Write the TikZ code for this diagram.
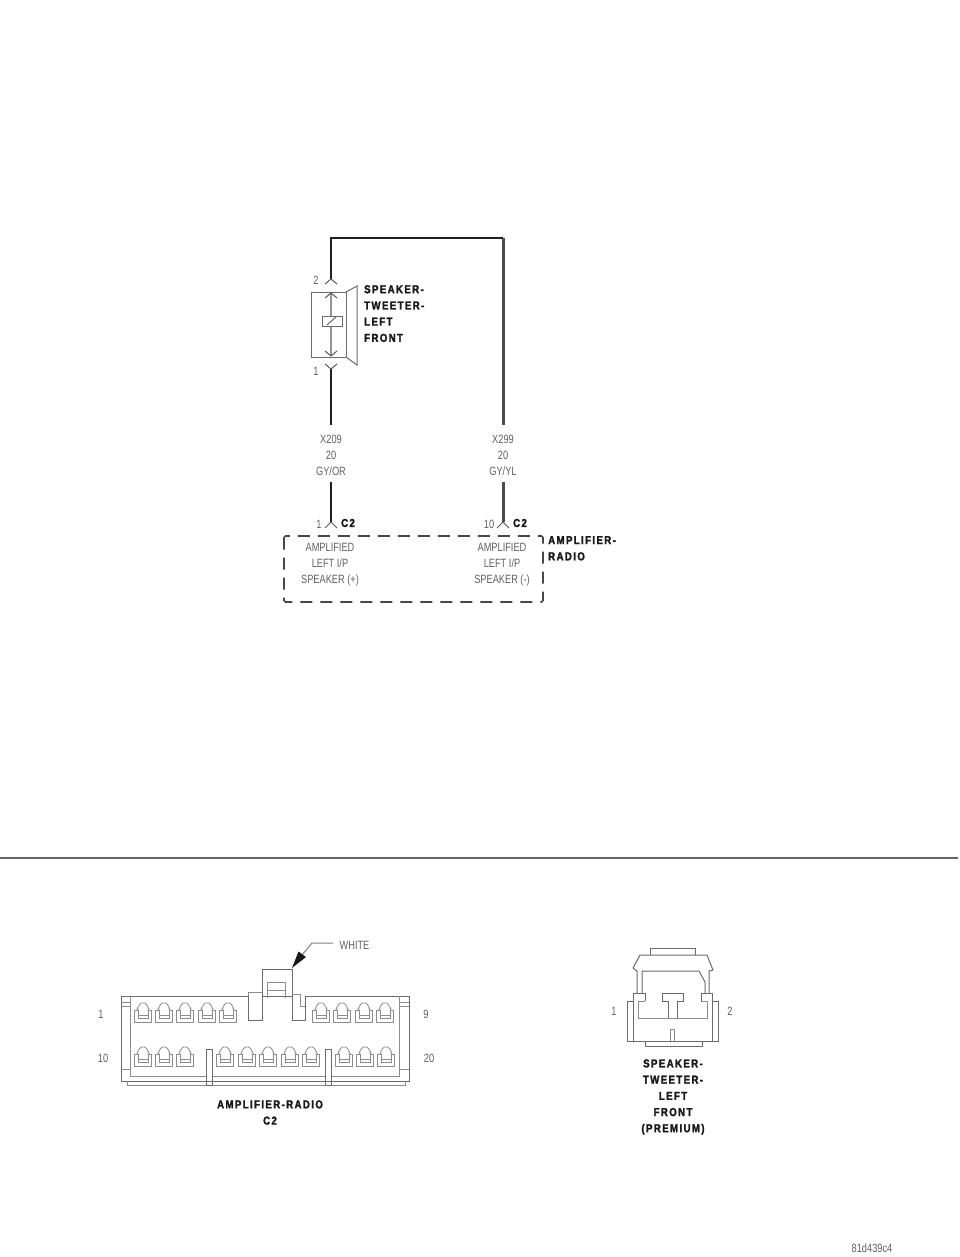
\documentclass[tikz,border=0pt]{standalone}
\usepackage{fontspec}
\setmainfont{Liberation Sans}
\newfontfamily\thinfont[FakeStretch=0.77]{Liberation Sans}
\newfontfamily\boldfont[FakeStretch=0.84,LetterSpace=12,FakeBold=2]{Liberation Sans Bold}
\begin{document}
\begin{tikzpicture}[x=1pt,y=-1pt,
  thinlab/.style={font=\thinfont\fontsize{12}{16}\selectfont,text=black!62,align=center,inner sep=0pt},
  boldlab/.style={font=\boldfont\fontsize{11.5}{16.2}\selectfont,text=black!90,align=left,inner sep=0pt},
  boldmid/.style={boldlab,align=center},
  wire/.style={line width=2.7pt,black!88},
  wiregrey/.style={line width=3pt,black!70},
  outline/.style={line width=1pt,black!58},
  fineline/.style={line width=0.8pt,black!45},
  chevron/.style={line width=1pt,black!65},
  pics/terminal/.style={code={
    \draw[fineline] (-8.5,7) -- (-8.5,19) -- (8.5,19) -- (8.5,7) -- (5,7) -- (5,15) -- (-5,15) -- (-5,7) -- cycle;
    \draw[fineline] (-5,7) -- (-5,6) -- (-6,6) -- (-3.5,1.5) -- (-1.5,0) -- (1.5,0) -- (3.5,1.5) -- (6,6) -- (5,6) -- (5,7);
    \draw[fineline] (-5,12) -- (5,12);
  }}]
\useasboundingbox (0,0) rectangle (960,1257);
\fill[white] (0,0) rectangle (960,1257);

% ---- schematic wires
\coordinate (corL) at (331,238);
\coordinate (corR) at (503,238);
\coordinate (p2) at (331,279);
\coordinate (p1) at (331,369);
\coordinate (wL) at (331,425);
\coordinate (wR) at (503,425);
\coordinate (wL2) at (331,482);
\coordinate (wR2) at (503,482);
\coordinate (c1) at (331,522);
\coordinate (c10) at (503,522);
\draw[wiregrey] (corR) -- (wR);
\draw[wire] (p2) -- (corL) -- (corR);
\draw[wire] (p1) -- (wL);
\draw[wire] (wL2) -- (c1);
\draw[wiregrey] (wR2) -- (c10);
\draw[chevron] ([xshift=-6,yshift=-5]p2) -- (p2) -- ([xshift=6,yshift=-5]p2);
\draw[chevron] ([xshift=-6,yshift=5]p1) -- (p1) -- ([xshift=6,yshift=5]p1);
\draw[chevron] ([xshift=-6,yshift=-6]c1) -- (c1) -- ([xshift=6,yshift=-6]c1);
\draw[chevron] ([xshift=-6,yshift=-6]c10) -- (c10) -- ([xshift=6,yshift=-6]c10);

% ---- speaker symbol
\draw[outline] (311,292) rectangle (346,357);
\draw[outline] (346,292) -- (357,286) -- (357,365) -- (346,357);
\coordinate (sT) at (331,293);
\coordinate (sB) at (331,356);
\draw[line width=1.7pt,black!42] (sT) -- (sB);
\draw[chevron] (325,298) -- (sT) -- (337,298);
\draw[chevron] (325,351) -- (sB) -- (337,351);
\draw[outline,fill=white] (322,316) rectangle (342,326);
\draw[outline] (327,325) -- (336,317);

% ---- schematic labels
\node[thinlab] (n2) at (316,280) {2};
\node[thinlab] (n1) at (316,371) {1};
\node[boldlab,anchor=north west] (spk) at (364,285) {SPEAKER-\\TWEETER-\\LEFT\\FRONT};
\node[thinlab] (w1) at (331,455) {X209\\20\\GY/OR};
\node[thinlab] (w2) at (503,455) {X299\\20\\GY/YL};
\node[thinlab] (t1) at (319,524) {1};
\node[thinlab] (t10) at (489,524) {10};
\node[boldlab] (c2a) at (348,523) {C2};
\node[boldlab] (c2b) at (520,523) {C2};
\draw[line width=1.7pt,black!72,dash pattern=on 12pt off 8pt,rounded corners=1.5pt] (284,536) rectangle (543,602);
\node[thinlab] (a1) at (330,565) {AMPLIFIED\\LEFT I/P\\SPEAKER (+)};
\node[thinlab] (a2) at (502,565) {AMPLIFIED\\LEFT I/P\\SPEAKER (-)};
\node[boldlab,anchor=north west] (amp) at (548,536) {AMPLIFIER-\\RADIO};

% ---- divider
\coordinate (ruleL) at (0,858);
\coordinate (ruleR) at (958,858);
\draw[line width=1.1pt,black!60] (ruleL) -- (ruleR);

% ---- amplifier connector C2
\draw[outline] (121,996) -- (248,996) -- (248,1020) -- (262,1020) -- (262,996) -- (292,996) -- (292,1020) -- (305,1020) -- (305,996) -- (409,996) -- (409,1081) -- (121,1081) -- cycle;
\draw[fineline] (127,1081) -- (127,1085) -- (405,1085) -- (405,1081);
\draw[fineline] (130,996) -- (130,1076) -- (206,1076);
\draw[fineline] (212,1076) -- (325,1076);
\draw[fineline] (331,1076) -- (399,1076) -- (399,996);
\draw[fineline] (121,1002) -- (130,1002);
\draw[fineline] (121,1006) -- (130,1006);
\draw[fineline] (121,1069) -- (130,1069);
\draw[fineline] (399,1002) -- (409,1002);
\draw[fineline] (399,1006) -- (409,1006);
\draw[fineline] (399,1069) -- (409,1069);
\draw[outline] (206,1049) rectangle (212,1085);
\draw[outline] (325,1049) rectangle (331,1085);
\draw[outline] (262,996) -- (262,969) -- (292,969) -- (292,996);
\draw[fineline] (267,998) -- (267,982) -- (285,982) -- (285,998);
\draw[fineline] (267,990) -- (285,990);
\draw[fineline] (248,996) -- (248,992) -- (262,992);
\draw[fineline] (292,994) -- (300,994) -- (300,1006) -- (305,1006);
\foreach \x in {143,164,185,207,228,321,342,364,385}
  \pic at (\x,1003) {terminal};
\foreach \x in {143,164,185,225,247,268,290,311,344,365,386}
  \pic at (\x,1047) {terminal};
\node[thinlab] (whitelab) at (354.5,945) {WHITE};
\coordinate (leadA) at (333,943);
\coordinate (leadB) at (312,943);
\coordinate (leadC) at (302,955);
\coordinate (leadTip) at (292,968);
\draw[line width=1pt,black!50] (leadA) -- (leadB) -- (leadC);
\fill[black!90] (leadTip) -- (298.5,951.5) -- (306,957) -- cycle;
\node[thinlab] (ca1) at (101,1014) {1};
\node[thinlab] (ca10) at (103,1058) {10};
\node[thinlab] (ca9) at (426,1014) {9};
\node[thinlab] (ca20) at (429,1058) {20};
\node[boldmid] (ampc) at (270,1112.5) {AMPLIFIER-RADIO\\C2};

% ---- speaker connector
\draw[outline] (650,955) -- (650,948) -- (695,948) -- (695,955);
\draw[outline] (633,968) -- (640,955) -- (707,955) -- (713,970) -- (709,971) -- (709,993);
\draw[outline] (633,968) -- (637,971) -- (637,993);
\draw[outline] (642,993) -- (642,971) -- (699,971) -- (705,982) -- (705,993);
\draw[outline] (645,1001) -- (645,993) -- (633,993) -- (633,1041) -- (712,1041) -- (712,993) -- (701,993) -- (701,1001);
\draw[fineline] (645,1001) -- (638,1001) -- (638,1018) -- (707,1018) -- (707,1001) -- (701,1001);
\draw[outline] (633,1001) -- (627,1001) -- (627,1041) -- (633,1041);
\draw[outline] (712,1001) -- (718,1001) -- (718,1041) -- (712,1041);
\draw[outline] (645,1041) -- (645,1046) -- (702,1046) -- (702,1041);
\draw[outline] (668,1018) -- (668,1001) -- (662,1001) -- (662,993) -- (683,993) -- (683,1001) -- (677,1001) -- (677,1018);
\draw[fineline] (670,1041) -- (670,1029) -- (674,1029) -- (674,1041);
\node[thinlab] (s1) at (614,1011) {1};
\node[thinlab] (s2) at (730,1011) {2};
\node[boldmid] (spkc) at (673,1097) {SPEAKER-\\TWEETER-\\LEFT\\FRONT\\(PREMIUM)};
\node[thinlab] (code) at (872,1248) {81d439c4};
\end{tikzpicture}
\end{document}
